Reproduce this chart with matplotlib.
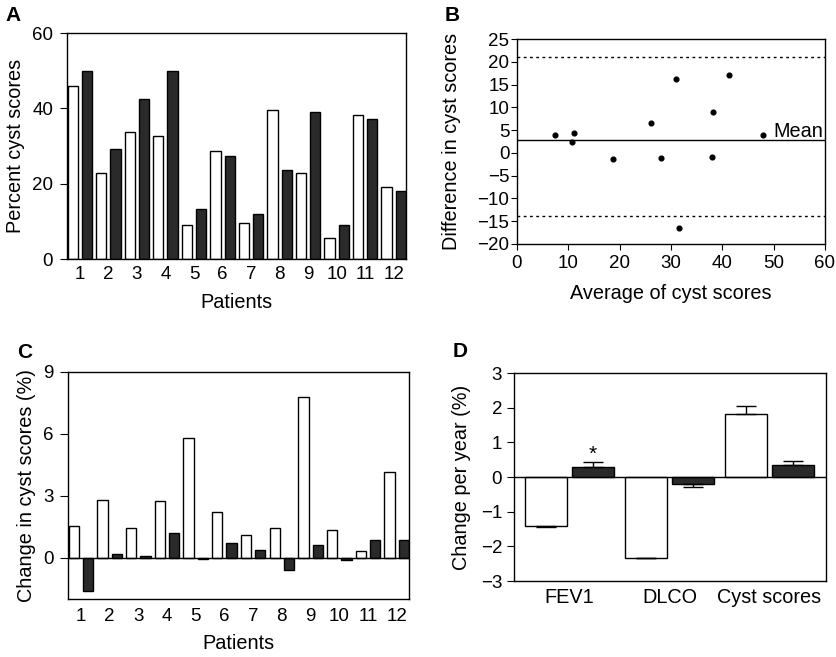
import matplotlib
matplotlib.use("Agg")
import matplotlib.pyplot as plt
import numpy as np

plt.rcParams['font.family'] = ['Liberation Sans', 'DejaVu Sans']
plt.rcParams['axes.linewidth'] = 1.0

patients = [str(i) for i in range(1, 13)]
a_white = [45.8, 22.7, 33.6, 32.6, 9.0, 28.6, 9.6, 39.6, 22.7, 5.6, 38.2, 19.1]
a_dark = [49.8, 29.3, 42.6, 49.8, 13.3, 27.3, 12.0, 23.5, 38.9, 9.0, 37.2, 18.1]

b_avg = [7.5, 11.2, 10.8, 18.7, 26.1, 28.1, 30.9, 31.6, 37.9, 38.2, 41.3, 47.9]
b_diff = [3.9, 4.4, 2.4, -1.4, 6.6, -1.2, 16.2, -16.4, -0.8, 9.0, 17.2, 4.0]
b_mean = 2.9
b_upper = 21.0
b_lower = -13.8

c_white = [1.52, 2.81, 1.42, 2.73, 5.82, 2.21, 1.10, 1.42, 7.79, 1.32, 0.32, 4.16]
c_dark = [-1.61, 0.18, 0.10, 1.21, -0.05, 0.73, 0.39, -0.60, 0.61, -0.11, 0.84, 0.84]

d_cats = ['FEV1', 'DLCO', 'Cyst scores']
d_white = [-1.40, -2.33, 1.81]
d_white_err = [0.04, 0.02, 0.23]
d_dark = [0.30, -0.19, 0.36]
d_dark_err = [0.13, 0.09, 0.09]

DARK = '#2a2a2a'
W, H = 837, 657
fig = plt.figure(figsize=(W / 100, H / 100), dpi=100)
PT = 100 / 72.0


def ax_px(l, t, r, b):
    ax = fig.add_axes([l / W, (H - b) / H, (r - l) / W, (b - t) / H])
    ax._px = (l, t, r, b)
    return ax


def ylabel_at(ax, text, xpx):
    l, t, r, b = ax._px
    ax.set_ylabel(text, fontsize=LAB)
    ax.yaxis.set_label_coords((xpx - l) / (r - l), 0.5)


def xlabel_at(ax, text, ypx):
    l, t, r, b = ax._px
    ax.set_xlabel(text, fontsize=LAB)
    ax.xaxis.set_label_coords(0.5, (b - ypx) / (b - t))


def mlabels(vals):
    return [str(v).replace('-', '\u2212') for v in vals]


TICK = 13.5
LAB = 14.3

# Panel A
axA = ax_px(67, 33, 406, 259)
x = np.arange(12)
bw = 0.36
axA.bar(x - 0.25, a_white, bw, color='white', edgecolor='black', linewidth=1)
axA.bar(x + 0.25, a_dark, bw, color=DARK, edgecolor='black', linewidth=1)
axA.set_xlim(-0.45, 11.43)
axA.set_ylim(0, 60)
axA.set_yticks([0, 20, 40, 60])
axA.set_xticks(x)
axA.set_xticklabels(patients)
axA.tick_params(axis='x', length=0, labelsize=TICK, pad=5)
axA.tick_params(axis='y', length=5, labelsize=TICK, direction='out', pad=5)
xlabel_at(axA, 'Patients', 293)
ylabel_at(axA, 'Percent cyst scores', 25)
fig.text(5 / W, 1 - 21 / H, 'A', fontsize=15, fontweight='bold')

# Panel B
axB = ax_px(517, 39, 825, 244)
axB.plot(b_avg, b_diff, 'o', color='black', markersize=3.4, linestyle='none')
axB.axhline(b_mean, color='black', linewidth=1)
axB.axhline(b_upper, color='black', linewidth=1, linestyle=(0, (2, 2.5)))
axB.axhline(b_lower, color='black', linewidth=1, linestyle=(0, (2, 2.5)))
axB.text(50.0, 3.5, 'Mean', fontsize=LAB, va='baseline', ha='left')
axB.set_xlim(0, 60)
axB.set_ylim(-20, 25)
axB.set_xticks(range(0, 61, 10))
axB.set_yticks(range(-20, 26, 5))
axB.set_yticklabels(mlabels(range(-20, 26, 5)))
axB.tick_params(axis='x', labelsize=TICK, length=4, direction='out', pad=3.6)
axB.tick_params(axis='y', labelsize=TICK, length=4, direction='out', pad=1.5)
xlabel_at(axB, 'Average of cyst scores', 284)
ylabel_at(axB, 'Difference in cyst scores', 461)
fig.text(445 / W, 1 - 21 / H, 'B', fontsize=15, fontweight='bold')

# Panel C
axC = ax_px(68, 372, 409, 599)
axC.bar(x - 0.25, c_white, bw, color='white', edgecolor='black', linewidth=1)
axC.bar(x + 0.25, c_dark, bw, color=DARK, edgecolor='black', linewidth=1)
axC.axhline(0, color='black', linewidth=1)
axC.set_xlim(-0.45, 11.43)
axC.set_ylim(-2, 9)
axC.set_yticks([0, 3, 6, 9])
axC.set_xticks(x)
axC.set_xticklabels(patients)
axC.tick_params(axis='x', length=0, labelsize=TICK, pad=6.5)
axC.tick_params(axis='y', length=5.5, labelsize=TICK, direction='out', pad=5)
xlabel_at(axC, 'Patients', 634)
ylabel_at(axC, 'Change in cyst scores (%)', 36)
fig.text(17 / W, 1 - 358 / H, 'C', fontsize=15, fontweight='bold')

# Panel D
axD = ax_px(514, 373, 826, 581)
xd = np.arange(3)
dw = 0.42
off = 0.234
wpos = xd - off
dpos = xd + off
axD.bar(wpos, d_white, dw, color='white', edgecolor='black', linewidth=1)
axD.bar(dpos, d_dark, dw, color=DARK, edgecolor='black', linewidth=1)
for xp, v, e in zip(list(wpos) + list(dpos), d_white + d_dark, d_white_err + d_dark_err):
    axD.errorbar([xp], [v], yerr=[[e], [0]] if v < 0 else [[0], [e]],
                 fmt='none', ecolor='black', elinewidth=1, capsize=7, capthick=1)
axD.text(dpos[0], 0.66, '*', ha='center', va='center', fontsize=15)
axD.axhline(0, color='black', linewidth=1)
axD.set_xlim(-0.555, 2.565)
axD.set_ylim(-3, 3)
axD.set_yticks(range(-3, 4))
axD.set_yticklabels(mlabels(range(-3, 4)))
axD.set_xticks(xd)
axD.set_xticklabels(d_cats)
axD.tick_params(axis='x', length=0, labelsize=LAB, pad=5)
axD.tick_params(axis='y', length=5, labelsize=TICK, direction='out', pad=3.5)
ylabel_at(axD, 'Change per year (%)', 471)
fig.text(453 / W, 1 - 357 / H, 'D', fontsize=15, fontweight='bold')

fig.savefig('out.png', dpi=100)
